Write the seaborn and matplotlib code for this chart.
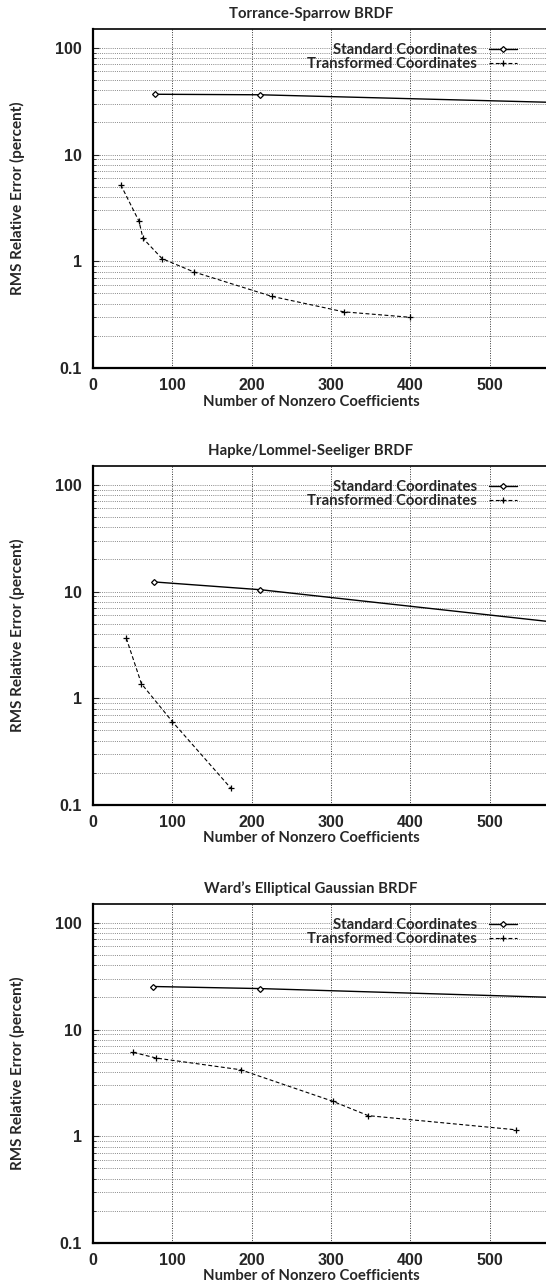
import numpy as np
import pandas as pd
import matplotlib
matplotlib.use("Agg")
import matplotlib.pyplot as plt
from matplotlib.lines import Line2D
from matplotlib.ticker import FixedLocator, FixedFormatter, NullFormatter
import seaborn as sns

# ---------------- data ----------------
titles = ["Torrance-Sparrow BRDF", "Hapke/Lommel-Seeliger BRDF", "Ward\u2019s Elliptical Gaussian BRDF"]
series_names = ["Standard Coordinates", "Transformed Coordinates"]

std_x_1 = [78, 210, 700]
std_y_1 = [36.7, 36.3, 29.2]
tr_x_1 = [35, 58, 63, 87, 127, 225, 316, 399]
tr_y_1 = [5.2, 2.37, 1.64, 1.06, 0.795, 0.47, 0.336, 0.299]

std_x_2 = [77, 211, 700]
std_y_2 = [12.3, 10.4, 4.13]
tr_x_2 = [42, 61, 100, 174]
tr_y_2 = [3.65, 1.37, 0.604, 0.143]

std_x_3 = [76, 210, 700]
std_y_3 = [25.3, 24.2, 18.8]
tr_x_3 = [51, 80, 186, 302, 347, 533]
tr_y_3 = [6.1, 5.4, 4.2, 2.13, 1.56, 1.15]

x_ticks = [0, 100, 200, 300, 400, 500]
y_ticks = [0.1, 1, 10, 100]
y_tick_labels = ["0.1", "1", "10", "100"]
x_label = "Number of Nonzero Coefficients"
y_label = "RMS Relative Error (percent)"

panels = [
    (std_x_1, std_y_1, tr_x_1, tr_y_1),
    (std_x_2, std_y_2, tr_x_2, tr_y_2),
    (std_x_3, std_y_3, tr_x_3, tr_y_3),
]

# ---------------- style ----------------
sns.set_theme(style="white")
plt.rcParams["font.family"] = ["Lato", "DejaVu Sans"]
plt.rcParams["font.weight"] = "bold"

W, H = 546, 1287
fig = plt.figure(figsize=(W / 100, H / 100), dpi=100)

left_px = 93
tops_px = [29, 466, 904]
height_px = 339

label_fs = 10.7
ylabel_fs = 11.0
tick_fs = 11.5
tick_font = {"family": "Liberation Sans", "weight": "bold", "size": tick_fs}

std_style = dict(color="black", linewidth=1.0, marker="D", markersize=3.0,
                 markerfacecolor="white", markeredgecolor="black", markeredgewidth=0.9)
tr_style = dict(color="black", linewidth=0.8, linestyle=(0, (3.5, 2.2)), marker="+",
                markersize=4.5, markeredgecolor="black", markeredgewidth=0.9)

for i, (title, (sx, sy, tx, ty)) in enumerate(zip(titles, panels)):
    top = tops_px[i]
    ax = fig.add_axes([left_px / W, 1 - (top + height_px) / H, (W - left_px) / W, height_px / H])

    df_std = pd.DataFrame({"x": sx, "y": sy})
    df_tr = pd.DataFrame({"x": tx, "y": ty})
    sns.lineplot(data=df_std, x="x", y="y", ax=ax, sort=False, estimator=None, **std_style)
    sns.lineplot(data=df_tr, x="x", y="y", ax=ax, sort=False, estimator=None, **tr_style)

    ax.set_yscale("log")
    ax.set_xlim(0, 571)
    ax.set_ylim(0.1, 150)

    ax.xaxis.set_major_locator(FixedLocator(x_ticks))
    ax.set_xticklabels([str(v) for v in x_ticks], fontdict=tick_font)
    ax.yaxis.set_major_locator(FixedLocator(y_ticks))
    ax.yaxis.set_major_formatter(FixedFormatter(y_tick_labels))
    minor = [m * 10.0 ** e for e in range(-1, 3) for m in range(2, 10)]
    ax.yaxis.set_minor_locator(FixedLocator(minor))
    ax.yaxis.set_minor_formatter(NullFormatter())
    for lab in ax.get_yticklabels():
        lab.set_fontfamily("Liberation Sans")
        lab.set_fontweight("bold")
        lab.set_fontsize(tick_fs)

    ax.tick_params(axis="y", which="major", direction="in", length=4, width=0.8, pad=8, left=True, right=False)
    ax.tick_params(axis="y", which="minor", direction="in", length=2, width=0.6, left=True, right=False)
    ax.tick_params(axis="x", which="major", direction="in", length=0, pad=7, bottom=True, top=False)

    ax.grid(True, axis="x", which="major", color="#333333", linestyle=(0, (1, 1.5)), linewidth=0.7)
    ax.grid(True, axis="y", which="both", color="#8a8a8a", linestyle=(0, (1, 1.2)), linewidth=0.7)
    ax.set_axisbelow(True)

    for side in ["left", "bottom"]:
        ax.spines[side].set_visible(True)
        ax.spines[side].set_color("black")
        ax.spines[side].set_linewidth(1.6)
    ax.spines["top"].set_color("black")
    ax.spines["top"].set_linewidth(1.2)
    ax.spines["right"].set_visible(False)

    ax.set_xlabel(x_label, fontsize=label_fs, fontweight="bold")
    ax.xaxis.set_label_coords(0.481, -33.5 / height_px)
    ax.xaxis.label.set_va("center")
    ax.set_ylabel(y_label, fontsize=ylabel_fs, fontweight="bold")
    ax.yaxis.set_label_coords((17 - left_px) / (W - left_px), 0.5)
    ax.yaxis.label.set_va("center")

    ax.text(0.481, 1 + 15 / height_px, title, transform=ax.transAxes, ha="center", va="center",
            fontsize=label_fs, fontweight="bold")

    handles = [Line2D([], [], **std_style), Line2D([], [], **tr_style)]
    leg = ax.legend(handles, series_names, loc="upper right",
                    bbox_to_anchor=((517 - left_px) / (W - left_px), 1 - 14 / height_px),
                    markerfirst=False, frameon=False, borderpad=0, borderaxespad=0,
                    handlelength=1.9, handletextpad=0.8, labelspacing=0.02,
                    prop={"family": "Lato", "weight": "bold", "size": label_fs})

fig.savefig("out.png", dpi=100)
